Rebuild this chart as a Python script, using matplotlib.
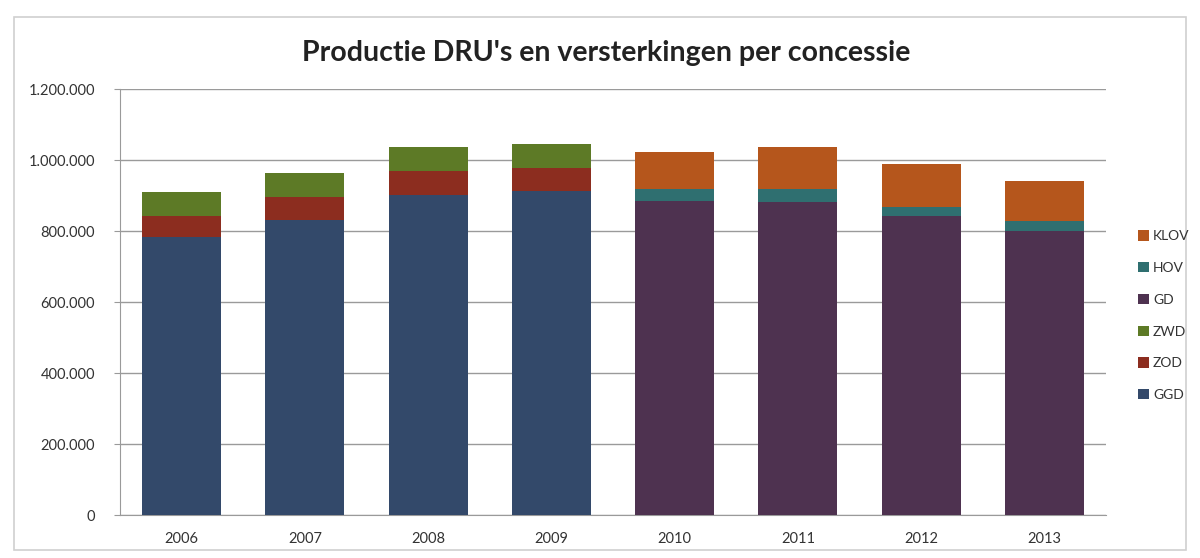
import matplotlib
matplotlib.use("Agg")
import matplotlib.pyplot as plt
import numpy as np
from matplotlib.ticker import FuncFormatter, MultipleLocator
from matplotlib.patches import Patch

years = ["2006", "2007", "2008", "2009", "2010", "2011", "2012", "2013"]

# Production per concession (stacked bottom to top)
ggd = [782000, 831000, 902000, 912000, 0, 0, 0, 0]
zod = [59000, 64000, 67000, 66000, 0, 0, 0, 0]
zwd = [68000, 67000, 69000, 66000, 0, 0, 0, 0]
gd = [0, 0, 0, 0, 885000, 883000, 841000, 801000]
hov = [0, 0, 0, 0, 32000, 34000, 27000, 28000]
klov = [0, 0, 0, 0, 106000, 121000, 120000, 111000]

series = [
    ("GGD", ggd, "#33496a"),
    ("ZOD", zod, "#8c2d1f"),
    ("ZWD", zwd, "#5d7a26"),
    ("GD", gd, "#4e3250"),
    ("HOV", hov, "#2f6f70"),
    ("KLOV", klov, "#b5561c"),
]

plt.rcParams["font.family"] = ["Lato", "DejaVu Sans"]

fig = plt.figure(figsize=(12, 5.58), dpi=100)
fig.patch.set_facecolor("white")
ax = fig.add_axes([0.1, 0.077, 0.8217, 0.7635])

x = np.arange(len(years))
bottom = np.zeros(len(years))
for name, vals, color in series:
    v = np.array(vals, dtype=float)
    ax.bar(x, v, width=0.64, bottom=bottom, color=color, label=name, zorder=3)
    bottom += v

ax.set_xlim(-0.5, len(years) - 0.5)
ax.set_ylim(0, 1200000)
ax.yaxis.set_major_locator(MultipleLocator(200000))
ax.yaxis.set_major_formatter(FuncFormatter(lambda v, p: f"{int(v):,}".replace(",", ".")))
ax.set_xticks(x)
ax.set_xticklabels(years)
ax.grid(axis="y", color="#9a9a9a", linewidth=1.0, zorder=0)
for s in ["top", "right"]:
    ax.spines[s].set_visible(False)
ax.spines["left"].set_color("#9a9a9a")
ax.spines["bottom"].set_color("#9a9a9a")
ax.tick_params(axis="y", length=4, color="#9a9a9a", labelsize=10.5, labelcolor="#333333", pad=14)
ax.tick_params(axis="x", length=0, labelsize=10.5, labelcolor="#333333", pad=12)

handles = [Patch(facecolor=c, label=n) for n, _, c in reversed(series)]
fig.legend(handles=handles, loc="upper left", bbox_to_anchor=(0.944, 0.597),
           frameon=False, fontsize=10, labelcolor="#333333",
           handlelength=0.75, handleheight=0.75, handletextpad=0.3,
           labelspacing=1.42, borderaxespad=0)

fig.text(0.505, 0.905, "Productie DRU's en versterkingen per concessie",
         ha="center", va="center", fontsize=20.5, fontweight="bold", color="#222222")

# thin outer frame of the chart area
fig.add_artist(plt.Rectangle((0.012, 0.015), 0.976, 0.955, transform=fig.transFigure,
                             fill=False, edgecolor="#d0d0d0", linewidth=1.2))

fig.savefig("out.png", dpi=100, facecolor="white")
